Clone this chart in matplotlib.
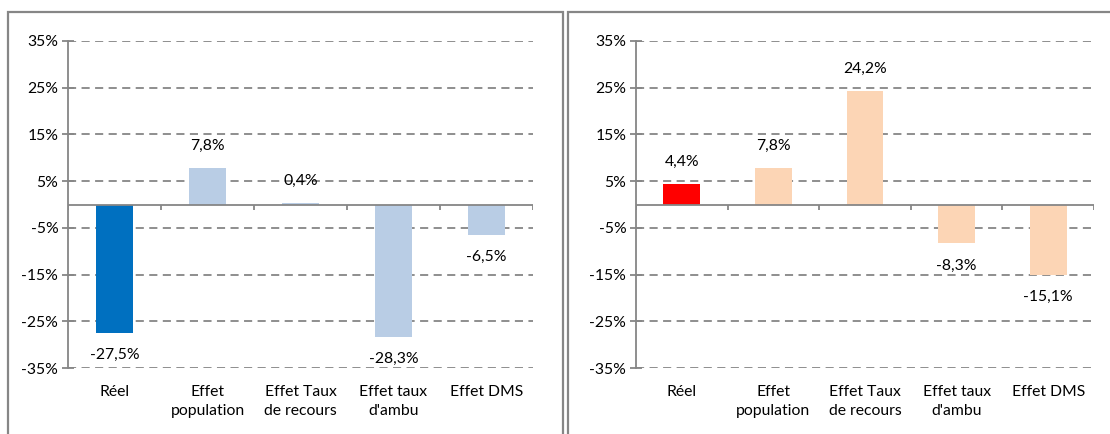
import matplotlib.pyplot as plt
from matplotlib.patches import Rectangle

plt.rcParams['font.family'] = ['Lato', 'DejaVu Sans']

categories = ['Réel', 'Effet\npopulation', 'Effet Taux\nde recours', "Effet taux\nd'ambu", 'Effet DMS']
gauche = [-27.5, 7.8, 0.4, -28.3, -6.5]
droite = [4.4, 7.8, 24.2, -8.3, -15.1]
couleurs_gauche = ['#0070C0', '#B9CDE5', '#B9CDE5', '#B9CDE5', '#B9CDE5']
couleurs_droite = ['#FF0000', '#FCD5B5', '#FCD5B5', '#FCD5B5', '#FCD5B5']
graduations = [35, 25, 15, 5, -5, -15, -25, -35]

gris = '#868686'
W, H = 1110, 434
taille = 11.3

fig = plt.figure(figsize=(11.1, 4.34), dpi=100)

# cadres des deux graphiques (coupés par le bord de l'image)
for x0, x1 in [(8, 563), (568, 1130)]:
    fig.patches.append(Rectangle((x0 / W, -0.1), (x1 - x0) / W, 1.1 - 12 / H,
                                 transform=fig.transFigure, fill=False,
                                 edgecolor=gris, linewidth=1.6, clip_on=False))


def graphique(ax, valeurs, couleurs):
    x = range(len(valeurs))
    ax.bar(x, valeurs, width=0.4, color=couleurs, zorder=2)
    ax.set_xlim(-0.5, len(valeurs) - 0.5)
    ax.set_ylim(-35, 35)
    ax.set_yticks(graduations)
    ax.set_yticklabels([f'{g}%' for g in graduations], fontsize=taille)
    for g in graduations:
        ax.axhline(g, color=gris, linestyle=(0, (4.5, 3)), linewidth=1.3, zorder=1)
    # axe horizontal à zéro avec les petites graduations vers le bas
    ax.axhline(0, color=gris, linewidth=1.3, zorder=3)
    ax.vlines([i - 0.5 for i in range(len(valeurs) + 1)], -1.2, 0,
              color=gris, linewidth=1.3, zorder=3)
    ax.set_xticks(list(x))
    ax.set_xticklabels(categories, fontsize=taille, linespacing=1.45)
    ax.tick_params(axis='x', length=0, pad=12.5)
    ax.tick_params(axis='y', direction='inout', length=8, width=1.3, color=gris, pad=3)
    for s in ['top', 'right', 'bottom']:
        ax.spines[s].set_visible(False)
    ax.spines['left'].set_color(gris)
    ax.spines['left'].set_linewidth(1.3)
    for i, v in enumerate(valeurs):
        dy = 16 if v >= 0 else -16
        ax.annotate(f'{v:.1f}%'.replace('.', ','), (i, v), xytext=(0, dy),
                    textcoords='offset points', ha='center', va='center',
                    fontsize=taille, zorder=4)


ax1 = fig.add_axes([68 / W, 1 - 368 / H, 465 / W, 327 / H])
graphique(ax1, gauche, couleurs_gauche)
ax2 = fig.add_axes([636 / W, 1 - 368 / H, 458 / W, 327 / H])
graphique(ax2, droite, couleurs_droite)

fig.savefig('out.png', dpi=100)
